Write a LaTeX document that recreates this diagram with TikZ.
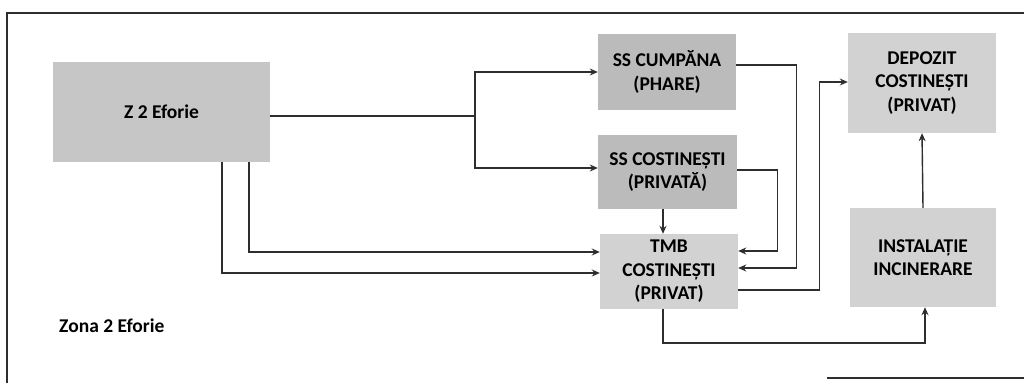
\documentclass[tikz,border=0pt]{standalone}
\usepackage{fontspec}
\setmainfont{Carlito}
\usetikzlibrary{arrows.meta}
\definecolor{boxA}{HTML}{C6C6C6}
\definecolor{boxB}{HTML}{BBBBBB}
\definecolor{boxC}{HTML}{D2D2D2}
\definecolor{ln}{HTML}{2E2E2E}
\tikzset{
  blk/.style={rectangle, inner sep=0pt, align=center, font=\bfseries\fontsize{19.5}{23.5}\selectfont, text=black},
  conn/.style={draw=ln, line width=1.4pt, -{Stealth[length=8pt,width=7pt]}},
  frame/.style={draw=ln, line width=1.4pt}
}
\begin{document}
\begin{tikzpicture}[x=1pt,y=-1pt]
\useasboundingbox (0,0) rectangle (1024,383);
% frame
\draw[frame] (7,383) -- (7,13) -- (1024,13);
\draw[frame] (827,378) -- (1024,378);
% nodes
\node[blk, fill=boxA, minimum width=217pt, minimum height=100pt] (Z) at (161.5,112) {Z 2 Eforie};
\node[blk, fill=boxB, minimum width=138pt, minimum height=76pt] (Cump) at (667,72) {SS CUMPĂNA\\(PHARE)};
\node[blk, fill=boxB, minimum width=139pt, minimum height=74pt] (SSC) at (667.5,172) {SS COSTINEȘTI\\(PRIVATĂ)};
\node[blk, fill=boxC, minimum width=138pt, minimum height=75pt] (TMB) at (669,271.5) {TMB\\COSTINEȘTI\\(PRIVAT)};
\node[blk, fill=boxC, minimum width=148pt, minimum height=100pt] (Dep) at (922,83) {DEPOZIT\\COSTINEȘTI\\(PRIVAT)};
\node[blk, fill=boxC, minimum width=146pt, minimum height=99pt] (Inst) at (923,257.5) {INSTALAȚIE\\INCINERARE};
\node[blk, anchor=west] (zona) at (59,326) {Zona 2 Eforie};
% junctions
\coordinate (j1) at (475,72);
\coordinate (j2) at (475,168);
\coordinate (low) at (800,343);
% connectors
\draw[conn] ([yshift=-4pt]Z.east) -| (j1) -- (Cump.west);
\draw[conn] ([yshift=-4pt]Z.east) -| (j2) -- (SSC.west |- j2);
\draw[conn] ([xshift=87.5pt]Z.south) |- ([yshift=19.5pt]TMB.west);
\draw[conn] ([xshift=60.5pt]Z.south) |- ([yshift=-1.5pt]TMB.west);
\draw[conn] ([yshift=7pt]Cump.east) -- ++(60,0) |- ([yshift=3.5pt]TMB.east);
\draw[conn] ([yshift=2pt]SSC.east) -- ++(40,0) |- ([yshift=20.5pt]TMB.east);
\draw[conn] ([xshift=-4.5pt]SSC.south) -- ([xshift=-6pt]TMB.north);
\draw[conn] ([yshift=-18.5pt]TMB.east) -- ++(81,0) |- ([yshift=1pt]Dep.west);
\draw[conn] ([xshift=-6pt]TMB.south) |- (low) -| ([xshift=2pt]Inst.south);
\draw[conn] (Inst.north) -- (Dep.south);
\end{tikzpicture}
\end{document}
